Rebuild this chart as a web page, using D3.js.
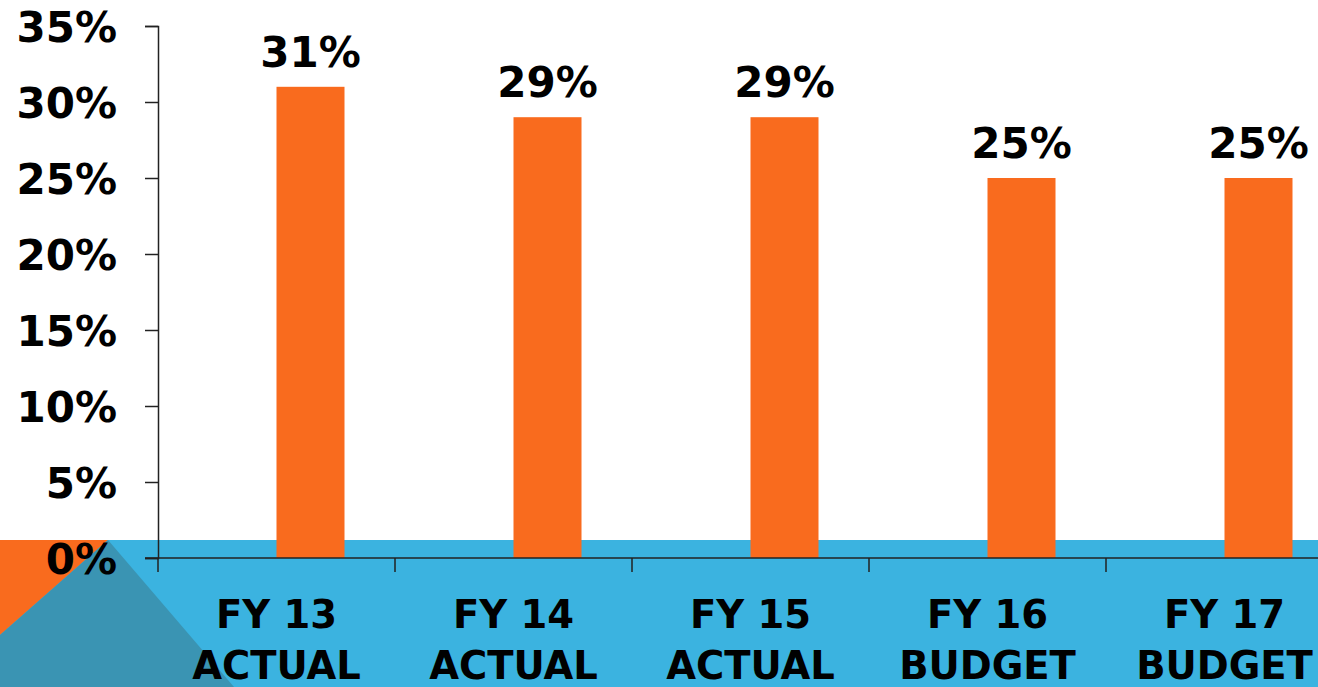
<!DOCTYPE html>
<html>
<head>
<meta charset="utf-8">
<script src="https://cdn.jsdelivr.net/npm/d3@7"></script>
<style>
  html, body { margin: 0; padding: 0; background: #fff; overflow: hidden; }
  svg { display: block; }
  text { font-family: "DejaVu Sans", sans-serif; font-weight: bold; fill: #000; }
</style>
</head>
<body>
<svg width="1318" height="687"></svg>
<script>
const categories = ['FY 13|ACTUAL', 'FY 14|ACTUAL', 'FY 15|ACTUAL', 'FY 16|BUDGET', 'FY 17|BUDGET'];
const values = [31, 29, 29, 25, 25];
const yTicks = [0, 5, 10, 15, 20, 25, 30, 35];

const width = 1318, height = 687;
const svg = d3.select('svg');

// background decoration: blue band and corner triangles
svg.append('rect')
  .attr('x', 0).attr('y', 540)
  .attr('width', width).attr('height', height - 540)
  .attr('fill', '#3bb3e0');
svg.append('path')
  .attr('d', 'M0,540 L108,540 L0,635 Z')
  .attr('fill', '#f96b1e');
svg.append('path')
  .attr('d', 'M108,540 L0,635 L0,687 L234,687 Z')
  .attr('fill', '#3a94b3');

const x0 = 158, y0 = 558;
const bandW = 237;

let x = d3.scaleBand()
  .domain(categories)
  .range([x0, x0 + bandW * categories.length])

let y = d3.scaleLinear().domain([0, 35]).range([y0, 26])

let g = svg.append('g')

// bars start at band centre (second, empty series slot on the right)
g.selectAll('.bar')
  .data(values)
  .enter().append('rect')
  .attr('class', 'bar')
  .attr('x', (d, i) => x(categories[i]) + x.bandwidth() / 2)
  .attr('width', 68)
  .attr('y', d => y(d))
  .attr('height', d => y0 - y(d))
  .attr('fill', '#f96b1e')

g.selectAll('.val')
  .data(values)
  .enter().append('text')
  .attr('class', 'val')
  .attr('x', (d, i) => x(categories[i]) + x.bandwidth() / 2 + 34)
  .attr('y', d => y(d) - 20)
  .attr('text-anchor', 'middle')
  .attr('font-size', 42)
  .text(d => d + '%')

// y axis
let yAxis = d3.axisLeft(y)
  .tickValues(yTicks)
  .tickSize(13)
  .tickPadding(28)
  .tickFormat(d => d + '%')

let ya = svg.append('g')
  .attr('transform', `translate(${x0},0)`)
  .call(yAxis)
ya.select('.domain').attr('stroke', '#222').attr('stroke-width', 1.5)
ya.selectAll('.tick line').attr('stroke', '#222').attr('stroke-width', 1.5)
ya.selectAll('.tick text')
  .attr('font-size', 42)
  .attr('font-family', '"DejaVu Sans", sans-serif')
  .attr('font-weight', 'bold')
  .attr('fill', '#000')
  .attr('dy', '0.36em')

// x axis
let xa = svg.append('g')
  .attr('transform', `translate(0,${y0})`)
xa.append('line')
  .attr('x1', 145).attr('x2', width)
  .attr('stroke', '#222').attr('stroke-width', 1.5)
xa.selectAll('.xt')
  .data(categories.concat(['end']))
  .enter().append('line')
  .attr('x1', (d, i) => x0 + i * bandW)
  .attr('x2', (d, i) => x0 + i * bandW)
  .attr('y1', 0).attr('y2', 14)
  .attr('stroke', '#222').attr('stroke-width', 1.5)

let labels = xa.selectAll('.xl')
  .data(categories)
  .enter().append('text')
  .attr('class', 'xl')
  .attr('text-anchor', 'middle')
  .attr('font-size', 38.5)
  .attr('transform', d => `translate(${x(d) + x.bandwidth() / 2},0)`)
labels.append('tspan')
  .attr('x', 0).attr('y', 70)
  .text(d => d.split('|')[0])
labels.append('tspan')
  .attr('x', 0).attr('y', 121)
  .text(d => d.split('|')[1])
</script>
</body>
</html>
